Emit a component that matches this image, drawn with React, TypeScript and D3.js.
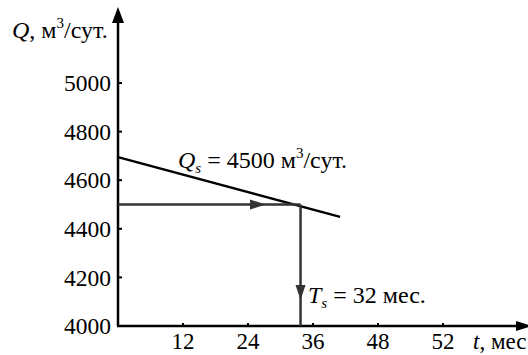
import React from "react";
import * as d3 from "d3";

// values
const qTicks = [4000, 4200, 4400, 4600, 4800, 5000];
const tTickValues = [12, 24, 36, 48, 60];
const tTickLabels = ["12", "24", "36", "48", "52"];
const declineT = [0, 41];
const declineQ = [4695, 4449];
const steadyQ = 4500;
const steadyT = 33.7;

const width = 528;
const height = 355;

export default function App() {
  const x = d3.scaleLinear().domain([0, 72]).range([118, 508]);
  const y = d3.scaleLinear().domain([4000, 5000]).range([326, 83]);

  const decline = declineT.map((t, i) => [t, declineQ[i]] as [number, number]);
  const line = d3
    .line<[number, number]>()
    .x((d) => x(d[0]))
    .y((d) => y(d[1]));

  const x0 = x(0);
  const y0 = y(4000);
  const xs = x(steadyT);
  const ys = y(steadyQ);
  const font = "Liberation Serif, Times New Roman, serif";
  const gray = "#333";

  return (
    <svg
      width={width}
      height={height}
      style={{ position: "absolute", left: 0, top: 0, background: "white", fontFamily: font }}
    >
      {/* axes */}
      <line x1={x0} y1={y0} x2={x0} y2={18} stroke="black" strokeWidth={2.5} />
      <path d={`M${x0},7 L${x0 - 6},23 L${x0 + 6},23 Z`} fill="black" />
      <line x1={x0 - 1} y1={y0} x2={518} y2={y0} stroke="black" strokeWidth={2.5} />
      <path d={`M${width + 4},${y0} L${width - 12},${y0 - 5} L${width - 12},${y0 + 5} Z`} fill="black" />

      {qTicks.map((q) => (
        <g key={q}>
          <line x1={x0} x2={x0 + 4} y1={y(q)} y2={y(q)} stroke="black" strokeWidth={2} />
          <text x={x0 - 7} y={y(q)} dy="0.35em" textAnchor="end" fontSize={23.5}>
            {q}
          </text>
        </g>
      ))}
      {tTickValues.map((t, i) => (
        <g key={t}>
          <line x1={x(t)} x2={x(t)} y1={y0} y2={y0 - 3} stroke="black" strokeWidth={2} />
          <text x={x(t)} y={349} textAnchor="middle" fontSize={23}>
            {tTickLabels[i]}
          </text>
        </g>
      ))}

      {/* axis titles */}
      <text x={12} y={38} fontSize={24}>
        <tspan fontStyle="italic">Q</tspan>, м<tspan dy={-10} fontSize={15}>3</tspan>
        <tspan dy={10}>/сут.</tspan>
      </text>
      <text x={473} y={349} fontSize={23}>
        <tspan fontStyle="italic">t</tspan>, мес
      </text>

      {/* decline line */}
      <path d={line(decline) ?? ""} fill="none" stroke="black" strokeWidth={2.5} />

      {/* horizontal arrow */}
      <line x1={x0} y1={ys} x2={xs} y2={ys} stroke={gray} strokeWidth={2.5} />
      <path d={`M${266},${ys} L${250},${ys - 5} L${250},${ys + 5} Z`} fill={gray} />

      {/* vertical arrow */}
      <line x1={xs} y1={ys} x2={xs} y2={y0} stroke={gray} strokeWidth={2.5} />
      <path d={`M${xs},${300} L${xs - 5},${285} L${xs + 5},${285} Z`} fill={gray} />

      {/* annotations */}
      <text x={178} y={168} fontSize={24}>
        <tspan fontStyle="italic">Q</tspan>
        <tspan fontStyle="italic" fontSize={15} dy={5}>s</tspan>
        <tspan dy={-5}> = 4500 м</tspan>
        <tspan dy={-10} fontSize={15}>3</tspan>
        <tspan dy={10}>/сут.</tspan>
      </text>
      <text x={308} y={303} fontSize={24}>
        <tspan fontStyle="italic">T</tspan>
        <tspan fontStyle="italic" fontSize={15} dy={5}>s</tspan>
        <tspan dy={-5}> = 32 мес.</tspan>
      </text>
    </svg>
  );
}
